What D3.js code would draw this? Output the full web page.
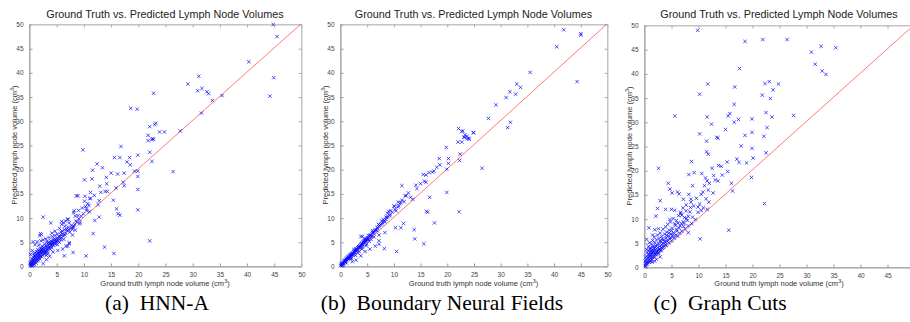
<!DOCTYPE html>
<html>
<head>
<meta charset="utf-8">
<script src="https://cdn.jsdelivr.net/npm/d3@7"></script>
<style>
  body { margin: 0; background: #fff; }
  svg { display: block; }
  .tick text { font-family: "Liberation Sans", Arial, sans-serif; fill: #444; }
</style>
</head>
<body>
<div id="chart"></div>
<script>
// values, [ground truth, predicted]
const ticks = [0, 5, 10, 15, 20, 25, 30, 35, 40, 45, 50];
const title = "Ground Truth vs. Predicted Lymph Node Volumes";
const xLabel = "Ground truth lymph node volume (cm";
const yLabel = "Predicted lymph node volume (cm";
const captions = ["(a)\u2002HNN-A", "(b)\u2002Boundary Neural Fields", "(c)\u2002Graph Cuts"];

const ptsA = [
  [44.9,49.9],[45.6,47.4],[40.4,42.2],[45.0,38.9],[44.3,35.1],[31.2,39.2],[29.2,37.6],[31.0,36.2],
  [31.8,36.7],[32.7,36.0],[33.0,35.6],[33.7,34.2],[35.5,35.2],[31.7,31.6],[18.7,32.6],[19.9,32.4],
  [22.9,35.7],[22.2,28.8],[23.1,29.2],[23.3,29.5],[24.0,27.7],[24.9,27.7],[27.8,27.9],[21.9,27.0],
  [22.7,26.3],[21.9,25.9],[22.6,26.1],[22.9,26.2],[22.2,23.5],[22.6,21.6],[26.5,19.5],[9.9,24.0],
  [16.9,24.7],[12.5,21.1],[13.5,20.3],[15.7,22.4],[16.7,22.4],[18.5,22.4],[20.0,22.9],[18.0,21.5],
  [18.6,20.9],[19.4,19.6],[20.0,19.6],[20.0,18.5],[17.5,19.2],[15.1,19.2],[16.3,19.0],[14.2,18.3],
  [11.7,19.8],[11.6,18.0],[10.2,17.8],[14.3,17.0],[13.0,16.5],[17.3,17.3],[17.5,16.6],[16.0,16.1],
  [20.0,15.8],[11.3,15.2],[13.2,15.2],[14.0,15.4],[14.4,15.4],[8.7,14.5],[9.0,14.5],[10.3,14.4],
  [11.2,13.9],[12.9,13.5],[10.2,13.4],[10.8,12.9],[12.7,12.7],[15.5,13.6],[16.1,11.8],[16.4,10.8],
  [16.7,10.5],[20.0,11.6],[8.3,11.4],[9.1,11.5],[10.6,11.4],[11.1,11.2],[12.9,10.1],[12.1,9.4],
  [2.6,10.1],[4.0,8.9],[6.0,9.2],[6.6,8.2],[7.2,9.7],[8.1,7.9],[9.3,8.7],[11.8,6.7],[8.0,6.4],
  [8.5,7.4],[0.8,5.0],[2.1,6.7],[7.4,4.8],[7.1,4.1],[6.5,2.1],[8.1,2.8],[10.5,2.1],[13.9,3.9],
  [15.6,2.6],[22.2,5.2],
  [0.2,0.1],[0.3,0.4],[0.4,0.2],[0.5,0.6],[0.5,1.0],[0.6,0.3],[0.7,0.8],[0.7,1.3],[0.8,0.5],
  [0.8,1.8],[0.9,1.1],[0.9,0.7],[1.0,1.5],[1.0,2.2],[1.1,0.9],[1.1,1.9],[1.2,1.3],[1.2,2.7],
  [1.3,1.6],[1.3,0.6],[1.4,2.1],[1.4,3.0],[1.5,1.4],[1.5,2.5],[1.6,1.9],[1.6,3.4],[1.7,2.2],
  [1.7,1.1],[1.8,2.8],[1.8,4.3],[1.9,1.8],[1.9,3.1],[2.0,2.4],[2.0,1.5],[2.1,3.6],[2.1,2.0],
  [2.2,2.8],[2.2,5.2],[2.3,3.3],[2.3,1.9],[2.4,2.6],[2.4,4.1],[2.5,3.0],[2.5,2.2],[2.6,3.8],
  [2.6,5.4],[2.7,2.9],[2.8,3.4],[2.8,2.4],[2.9,4.5],[3.0,3.1],[3.0,3.7],[3.1,2.7],[3.1,5.6],
  [3.2,3.5],[3.3,4.0],[3.3,3.0],[3.4,4.7],[3.5,3.6],[3.5,2.6],[3.6,4.3],[3.7,3.9],[3.7,5.9],
  [3.8,4.6],[3.9,3.5],[4.0,4.2],[4.0,5.2],[4.1,4.8],[4.2,3.8],[4.3,4.5],[4.3,6.1],[4.4,5.0],
  [4.5,4.2],[4.6,5.5],[4.7,4.7],[4.8,6.3],[4.9,5.1],[5.0,4.6],[5.1,5.7],[5.2,6.6],[5.3,5.2],
  [5.5,6.0],[5.6,4.9],[5.8,6.5],[6.0,5.8],[6.1,7.2],[6.3,6.2],[6.5,7.5],[6.7,6.8],[7.0,7.3],
  [7.2,8.0],[7.5,7.0],[7.8,8.4],[8.0,7.6],[8.4,8.6],[8.8,9.1],[9.2,9.7],[9.6,10.3],[10.0,10.8],
  [0.5,0.0],[1.0,0.3],[2.6,0.5],[3.2,1.3],[3.8,2.0],[4.4,2.9],[5.3,3.2],[6.2,3.5],[6.8,4.1],
  [7.4,4.6],[0.3,2.4],[0.6,3.2],[1.1,4.4],[1.5,5.0],[2.0,6.3],[2.3,6.5],[3.3,5.1],[4.2,6.8],
  [4.8,7.2],[5.6,7.8],[6.0,8.6],[6.4,8.9],[7.1,9.6],[8.2,11.0],[8.5,10.3],[9.8,12.0],[10.4,12.3],
  [11.0,12.5],[11.3,14.0],[12.0,14.6],
  [0.4,0.9],[0.6,1.5],[0.9,2.6],[1.2,2.0],[1.4,1.0],[1.7,2.6],[1.9,2.3],[2.2,3.1],[2.4,3.5],
  [2.7,3.3],[2.9,2.8],[3.1,4.1],[3.4,3.3],[3.6,4.8],[3.8,4.0],[4.1,4.4],[4.4,4.6],[4.6,4.9],
  [4.9,5.5],[5.1,5.0],[5.4,5.6],[5.7,6.1],[5.9,5.4],[6.2,6.6],[6.6,6.4],[6.9,7.6],[7.3,7.5],
  [7.7,7.8],[8.2,8.2],[8.6,9.3],[0.2,0.6],[0.7,0.2],[1.6,1.4],[2.0,2.9],[3.2,2.2],[3.9,4.8],
  [4.5,5.4],[5.2,4.4],[5.9,7.0],[6.4,5.5],[7.4,8.9],[9.0,10.4],[9.4,9.0],[10.6,11.8],[6.7,9.3]
];

const ptsB = [
  [41.9,48.8],[40.6,45.3],[45.1,48.0],[45.1,47.7],[44.4,38.1],[35.6,40.0],[33.1,37.6],[33.8,36.9],
  [31.8,36.0],[31.1,34.8],[32.9,35.5],[29.2,33.3],[27.8,30.5],[31.4,28.6],[31.9,29.7],[22.2,28.4],
  [23.0,27.9],[25.0,27.5],[23.4,27.1],[23.8,26.8],[23.2,26.6],[24.1,26.4],[22.1,25.6],[22.8,25.6],
  [23.3,26.6],[23.8,26.3],[24.2,26.2],[25.0,27.6],[22.8,27.8],[19.9,24.5],[22.5,23.1],[22.4,21.8],
  [20.3,22.2],[20.3,21.2],[20.0,20.0],[26.6,20.2],[18.6,22.2],[18.7,20.9],[18.1,20.4],[17.3,19.4],
  [17.6,19.6],[16.7,19.3],[15.6,18.9],[16.1,18.8],[15.8,17.5],[16.1,17.3],[15.1,17.0],[14.2,16.7],
  [14.4,16.0],[11.6,16.6],[12.8,15.1],[13.2,14.2],[13.6,13.8],[12.4,14.5],[12.0,13.3],[11.4,13.1],
  [11.0,12.4],[10.5,11.4],[10.1,12.4],[9.1,11.3],[8.6,10.1],[7.8,9.3],[7.0,7.9],[6.2,6.8],
  [16.8,14.2],[16.2,11.3],[16.4,11.1],[20.0,15.2],[22.3,11.2],[17.7,8.9],[13.9,7.5],[10.4,7.9],
  [11.4,7.9],[11.9,8.8],[14.0,5.6],[15.7,4.6],[10.6,3.0],[8.4,6.9],[7.3,6.4],[7.3,5.2],[7.3,4.5],
  [6.6,4.1],[8.3,3.6],[4.2,6.1],[5.6,3.5],[4.7,3.0],[3.9,2.1],[3.0,1.2],[2.3,0.9],
  [0.1,0.1],[0.2,0.3],[0.3,0.2],[0.4,0.5],[0.5,0.4],[0.6,0.7],[0.7,0.6],[0.8,0.9],[0.9,1.0],
  [1.0,0.8],[1.0,1.2],[1.1,1.1],[1.2,1.4],[1.3,1.3],[1.4,1.6],[1.5,1.5],[1.6,1.8],[1.7,1.7],
  [1.8,2.0],[1.9,2.1],[2.0,1.9],[2.0,2.3],[2.1,2.4],[2.2,2.2],[2.3,2.6],[2.4,2.7],[2.5,2.5],
  [2.6,2.9],[2.7,3.1],[2.8,2.8],[2.9,3.3],[3.0,3.2],[3.1,3.5],[3.2,3.4],[3.3,3.8],[3.4,3.6],
  [3.5,4.0],[3.6,3.9],[3.7,4.2],[3.8,4.1],[3.9,4.4],[4.0,4.3],[4.1,4.7],[4.2,4.5],[4.3,4.9],
  [4.4,4.8],[4.5,5.1],[4.6,4.9],[4.7,5.3],[4.8,5.2],[4.9,5.6],[5.0,5.4],[5.2,5.8],[5.4,5.9],
  [5.6,6.2],[5.8,6.4],[6.0,6.7],[6.2,6.9],[6.5,7.2],[6.8,7.5],[7.0,7.9],[7.3,8.1],[7.6,8.6],
  [8.0,9.0],[8.3,9.4],[8.6,9.6],[9.0,10.2],[9.4,10.6],[9.8,11.1],[10.3,11.7],[10.8,12.2],
  [11.2,12.9],[3.9,6.1],[2.6,3.4],[1.5,2.0],[0.5,0.1],[1.2,0.6],[2.1,1.5],[2.9,2.2],[3.6,3.0],
  [4.2,3.9],[5.0,4.5],[5.5,5.1],[4.6,5.6],[5.3,6.3],[6.1,7.3],[7.2,8.6],[8.1,9.6],[8.9,10.9],
  [9.5,11.4],[10.2,12.3],[10.9,13.2],[11.6,13.6],[12.2,14.5],
  [0.3,0.5],[0.6,0.4],[0.8,1.1],[1.1,1.4],[1.3,1.6],[1.6,1.6],[1.9,2.3],[2.2,2.5],[2.4,2.3],
  [2.7,2.8],[3.0,3.5],[3.2,3.2],[3.5,3.8],[3.7,3.9],[4.0,4.6],[4.3,4.4],[4.6,5.2],[4.9,5.2],
  [5.1,5.7],[5.3,5.5],[5.7,6.4],[5.9,6.1],[6.3,7.0],[6.6,7.5],[6.9,7.3],[7.4,8.4],[7.9,8.7],
  [8.4,9.1],[8.8,10.0],[9.3,10.4],[2.0,1.6],[3.3,2.7],[4.1,3.5],[4.9,4.2],[5.8,5.5],[6.4,6.0]
];

const ptsC = [
  [9.95,48.9],[18.7,46.6],[22.0,47.0],[26.5,47.0],[31.0,44.4],[32.8,45.6],[35.5,45.3],[31.7,41.9],
  [33.0,40.5],[33.7,39.8],[17.7,41.0],[11.8,37.8],[10.3,35.7],[16.8,37.2],[22.4,37.9],[23.2,38.3],
  [24.9,37.8],[23.9,36.6],[21.9,35.5],[23.4,34.8],[16.7,33.6],[5.7,31.2],[11.7,31.0],[15.6,31.2],
  [15.9,31.7],[17.5,30.5],[16.7,29.9],[20.0,30.6],[22.6,31.9],[23.7,31.0],[27.7,31.3],[12.5,29.5],
  [15.1,28.4],[22.8,28.8],[10.3,27.5],[18.7,27.2],[20.0,27.8],[22.2,27.0],[13.5,26.8],[13.7,26.6],
  [11.6,26.0],[11.6,23.8],[11.9,23.3],[18.0,25.0],[20.0,24.5],[20.2,22.5],[22.6,23.6],[17.2,22.3],
  [17.6,21.6],[19.0,21.5],[15.4,21.7],[14.3,20.8],[13.8,21.0],[12.6,20.4],[2.7,20.4],[8.8,21.8],
  [9.3,19.5],[10.7,19.3],[8.3,19.1],[15.5,19.7],[14.5,19.0],[12.9,18.9],[13.2,18.0],[13.7,17.8],
  [11.4,18.4],[11.7,17.8],[12.1,17.3],[11.2,16.8],[9.0,16.8],[16.2,17.3],[16.4,15.7],[19.9,18.5],
  [4.5,17.3],[4.8,16.1],[5.2,15.3],[6.2,15.5],[6.5,15.1],[8.3,15.0],[10.9,15.5],[11.9,15.9],
  [12.8,15.3],[3.0,13.7],[7.3,14.0],[8.7,14.0],[22.3,13.1],[10.6,11.7],[11.7,11.9],[10.0,12.4],
  [5.7,11.7],[5.1,11.9],[2.2,10.5],[4.0,11.9],[2.5,12.1],[6.8,11.0],[7.9,10.0],[4.8,9.8],[7.3,9.3],
  [8.8,9.0],[15.7,7.6],[10.4,5.8],[8.2,7.1],[0.9,8.1],[0.5,5.7],[1.6,6.6],[2.0,7.7],[2.7,7.9],
  [0.2,0.3],[0.3,0.8],[0.4,1.5],[0.4,0.5],[0.5,2.2],[0.6,1.1],[0.6,3.0],[0.7,0.9],[0.7,1.9],
  [0.8,2.6],[0.8,4.2],[0.9,1.4],[0.9,3.4],[1.0,1.0],[1.0,2.3],[1.0,5.0],[1.1,3.0],[1.2,1.7],
  [1.2,4.0],[1.3,2.5],[1.3,3.3],[1.4,1.5],[1.4,4.8],[1.5,2.9],[1.5,3.6],[1.6,2.0],[1.6,5.5],
  [1.7,3.2],[1.7,4.3],[1.8,2.5],[1.9,3.8],[1.9,6.2],[2.0,2.9],[2.0,5.0],[2.1,3.5],[2.2,4.4],
  [2.2,2.6],[2.3,5.6],[2.4,3.3],[2.5,4.0],[2.5,6.6],[2.6,3.0],[2.7,4.8],[2.8,5.9],[2.8,3.6],
  [2.9,4.3],[3.0,7.0],[3.0,3.4],[3.1,5.2],[3.2,4.0],[3.3,6.3],[3.4,3.9],[3.5,4.9],[3.5,7.8],
  [3.6,5.6],[3.7,4.4],[3.8,6.8],[3.9,5.1],[4.0,8.3],[4.0,4.6],[4.1,6.0],[4.2,7.2],[4.3,5.3],
  [4.4,8.8],[4.5,6.4],[4.6,5.0],[4.7,7.6],[4.8,5.8],[4.9,9.3],[5.0,6.8],[5.1,5.4],[5.2,8.0],
  [5.3,6.2],[5.4,10.0],[5.5,7.1],[5.6,6.0],[5.8,8.6],[5.9,6.6],[6.0,9.6],[6.1,7.4],[6.2,6.4],
  [6.4,10.6],[6.5,8.1],[6.6,7.0],[6.8,11.3],[6.9,9.0],[7.0,7.4],[7.2,12.2],[7.3,8.4],[7.5,10.2],
  [7.6,7.9],[7.8,12.8],[8.0,9.6],[8.2,8.5],[8.5,11.4],[8.7,13.4],[9.0,10.3],[9.2,12.6],[9.5,9.8],
  [9.7,14.2],[10.0,11.3],[10.3,13.0],[10.6,15.0],[11.0,12.2],[11.5,14.1],[12.0,13.4],[3.0,2.1],
  [1.5,1.0],[2.3,1.6],[0.3,0.1],[2.0,1.2],
  [0.2,1.2],[0.3,2.0],[0.5,3.6],[0.6,0.6],[0.8,1.3],[0.9,2.0],[1.1,2.6],[1.1,3.7],[1.2,1.2],
  [1.3,2.1],[1.4,2.7],[1.6,3.0],[1.6,4.1],[1.8,3.4],[1.9,2.1],[2.1,2.6],[2.1,4.0],[2.3,3.0],
  [2.4,4.6],[2.6,3.5],[2.7,2.8],[2.9,3.7],[3.0,5.4],[3.2,3.5],[3.3,4.6],[3.4,5.8],[3.6,4.1],
  [3.8,5.3],[4.1,4.5],[4.2,6.5],[4.4,5.6],[4.6,7.0],[4.9,6.1],[5.1,7.5],[5.4,6.7],[5.7,8.9],
  [6.0,7.8],[6.3,9.1],[6.7,8.5],[7.0,10.7],[7.4,9.0],[7.8,11.6],[8.2,10.5],[8.6,12.3]
];

const series = [ptsA, ptsB, ptsC];

// pixel frame of each sub-plot
const layout = [
  { left: 29,  right: 301, top: 24, bottom: 266, capX: 157 },
  { left: 340, right: 607, top: 24, bottom: 266, capX: 442 },
  { left: 644, right: 914, top: 25, bottom: 267, capX: 720 }
];

const width = 910, height = 322;
const svg = d3.select('#chart').append('svg')
  .attr('width', width)
  .attr('height', height)
  .style('font-family', '"Liberation Sans", Arial, sans-serif');

const crossPath = 'M-1.7,-1.7L1.7,1.7M-1.7,1.7L1.7,-1.7';

layout.forEach((p, i) => {
  const x = d3.scaleLinear().domain([0, 50]).range([p.left, p.right]);
  const y = d3.scaleLinear().domain([0, 50]).range([p.bottom, p.top]);
  const g = svg.append('g');

  // frame
  g.append('rect')
    .attr('x', p.left + 0.5).attr('y', p.top + 0.5)
    .attr('width', p.right - p.left).attr('height', p.bottom - p.top)
    .attr('fill', 'none').attr('stroke', '#c4c4c4').attr('stroke-width', 1);

  // axes, ticks pointing inward; a label that would fall past the page edge is left out
  const fmtX = d => (x(d) + 6 > width ? '' : d3.format('d')(d));
  const fmtY = d3.format('d');
  const styleAxis = sel => {
    sel.select('.domain').attr('stroke', '#999');
    sel.selectAll('.tick line').attr('stroke', '#999');
    sel.selectAll('.tick text').style('font-size', '6.5px');
  };
  g.append('g').attr('transform', `translate(0.5,${p.bottom + 0.5})`)
    .call(d3.axisBottom(x).tickValues(ticks).tickFormat(fmtX).tickSizeInner(-3).tickSizeOuter(0).tickPadding(6))
    .call(styleAxis);
  g.append('g').attr('transform', `translate(${p.left + 0.5},0.5)`)
    .call(d3.axisLeft(y).tickValues(ticks).tickFormat(fmtY).tickSizeInner(-3).tickSizeOuter(0).tickPadding(6))
    .call(styleAxis);
  g.append('g').attr('transform', `translate(0.5,${p.top + 0.5})`)
    .call(d3.axisTop(x).tickValues(ticks).tickFormat('').tickSizeInner(-3).tickSizeOuter(0))
    .call(sel => { sel.select('.domain').attr('stroke', '#c4c4c4'); sel.selectAll('.tick line').attr('stroke', '#aaa'); });
  g.append('g').attr('transform', `translate(${p.right + 0.5},0.5)`)
    .call(d3.axisRight(y).tickValues(ticks).tickFormat('').tickSizeInner(-3).tickSizeOuter(0))
    .call(sel => { sel.select('.domain').attr('stroke', '#c4c4c4'); sel.selectAll('.tick line').attr('stroke', '#aaa'); });

  // identity line
  g.append('line')
    .attr('x1', x(0)).attr('y1', y(0)).attr('x2', x(50)).attr('y2', y(50))
    .attr('stroke', '#ff6b6b').attr('stroke-width', 0.9);

  // predictions
  g.append('g').selectAll('path')
    .data(series[i])
    .enter()
    .append('path')
    .attr('transform', d => `translate(${x(d[0])},${y(d[1])})`)
    .attr('d', crossPath)
    .attr('fill', 'none')
    .attr('stroke', '#0a0aff')
    .attr('stroke-opacity', 0.8)
    .attr('stroke-width', 0.9);

  const cx = (p.left + p.right) / 2;
  const cy = (p.top + p.bottom) / 2;

  g.append('text')
    .attr('x', cx).attr('y', 18)
    .attr('text-anchor', 'middle')
    .style('font-size', '10.8px').attr('fill', '#222')
    .text(title);

  const xl = g.append('text')
    .attr('x', cx).attr('y', 286)
    .attr('text-anchor', 'middle')
    .style('font-size', '7.5px').attr('fill', '#333')
    .text(xLabel);
  xl.append('tspan').attr('dy', -3).style('font-size', '5.5px').text('3');
  xl.append('tspan').attr('dy', 3).text(')');

  const yl = g.append('text')
    .attr('transform', `translate(${p.left - 12},${cy}) rotate(-90)`)
    .attr('text-anchor', 'middle')
    .style('font-size', '7.5px').attr('fill', '#333')
    .text(yLabel);
  yl.append('tspan').attr('dy', -3).style('font-size', '5.5px').text('3');
  yl.append('tspan').attr('dy', 3).text(')');

  g.append('text')
    .attr('x', p.capX).attr('y', 310)
    .attr('text-anchor', 'middle')
    .style('font-family', '"Liberation Serif", "Times New Roman", serif')
    .style('font-size', '21.5px').attr('fill', '#000')
    .text(captions[i]);
});
</script>
</body>
</html>
